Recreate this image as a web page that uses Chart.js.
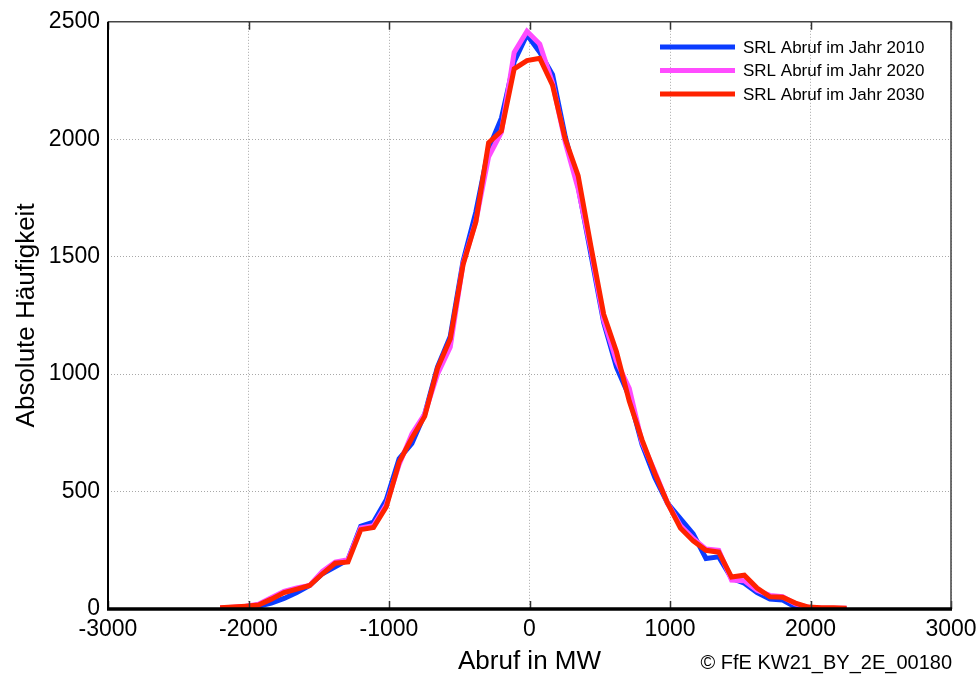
<!DOCTYPE html>
<html>
<head>
<meta charset="utf-8">
<script src="https://cdn.jsdelivr.net/npm/chart.js@4/dist/chart.umd.min.js"></script>
<style>
  html, body { margin: 0; padding: 0; background: #fff; }
  #wrap { width: 979px; height: 675px; }
</style>
</head>
<body>
<div id="wrap"><canvas id="chart" width="979" height="675"></canvas></div>
<script>
// --- DATA ---
const abrufMW = [-2202, -2111, -2020, -1929, -1838, -1747, -1656, -1565, -1474, -1383,
  -1292, -1201, -1110, -1019, -928, -837, -746, -655, -564, -473,
  -382, -291, -200, -109, -18, 73, 164, 255, 346, 437,
  528, 619, 710, 801, 892, 983, 1074, 1165, 1256, 1347,
  1438, 1529, 1620, 1711, 1802, 1893, 1984, 2075, 2166, 2257];

const jahr2010 = [2, 5, 8, 12, 25, 45, 70, 100, 150, 180,
  210, 352, 370, 465, 640, 705, 830, 1030, 1160, 1480,
  1690, 1960, 2090, 2330, 2445, 2370, 2275, 2010, 1800, 1510,
  1220, 1030, 905, 700, 560, 450, 385, 320, 215, 222,
  131, 110, 70, 42, 38, 8, 2, 0, 0, 0];

const jahr2020 = [4, 8, 12, 20, 48, 75, 90, 100, 160, 200,
  210, 345, 355, 445, 615, 745, 830, 1000, 1115, 1470,
  1650, 1925, 2030, 2370, 2460, 2405, 2240, 1985, 1790, 1530,
  1230, 1055, 940, 710, 585, 450, 355, 300, 255, 250,
  123, 120, 80, 58, 52, 22, 8, 4, 3, 3];

const jahr2030 = [5, 8, 12, 17, 42, 70, 85, 100, 150, 195,
  200, 338, 347, 435, 625, 728, 820, 1025, 1150, 1465,
  1648, 1985, 2035, 2300, 2335, 2345, 2230, 2000, 1845, 1545,
  1255, 1095, 885, 720, 578, 450, 345, 290, 250, 242,
  136, 144, 89, 52, 50, 25, 8, 5, 5, 3];

const seriesNames = ["SRL Abruf im Jahr 2010", "SRL Abruf im Jahr 2020", "SRL Abruf im Jahr 2030"];
const seriesColors = ["#0b3cff", "#ff4cff", "#ff2200"];
const xTicks = [-3000, -2000, -1000, 0, 1000, 2000, 3000];
const yTicks = [0, 500, 1000, 1500, 2000, 2500];

const FONT = "'Liberation Sans', Arial, sans-serif";

function toPoints(vals) {
  return vals.map((v, i) => ({ x: abrufMW[i], y: v }));
}

// frame, tick marks, legend and copyright note
const decorPlugin = {
  id: "decor",
  afterDraw(chart) {
    const ctx = chart.ctx;
    const a = chart.chartArea;
    const xs = chart.scales.x;
    ctx.save();

    // tick marks at top and bottom
    ctx.strokeStyle = "#333";
    ctx.lineWidth = 1.5;
    xTicks.forEach(t => {
      const px = Math.round(xs.getPixelForValue(t)) + 0.5;
      ctx.beginPath();
      ctx.moveTo(px, a.top); ctx.lineTo(px, a.top + 8);
      ctx.moveTo(px, a.bottom); ctx.lineTo(px, a.bottom - 8);
      ctx.stroke();
    });

    // top + right border
    ctx.strokeStyle = "#444";
    ctx.lineWidth = 1.5;
    ctx.beginPath();
    ctx.moveTo(a.left, a.top); ctx.lineTo(a.right, a.top); ctx.lineTo(a.right, a.bottom);
    ctx.stroke();

    // left axis
    ctx.strokeStyle = "#000";
    ctx.lineWidth = 2;
    ctx.beginPath();
    ctx.moveTo(a.left, a.top); ctx.lineTo(a.left, a.bottom);
    ctx.stroke();

    // bottom axis (thick)
    ctx.lineWidth = 3.5;
    ctx.beginPath();
    ctx.moveTo(a.left - 1, a.bottom); ctx.lineTo(a.right + 1, a.bottom);
    ctx.stroke();

    // legend
    ctx.font = "17px " + FONT;
    ctx.textBaseline = "middle";
    ctx.textAlign = "left";
    seriesNames.forEach((name, i) => {
      const y = 47 + i * 23.5;
      ctx.strokeStyle = seriesColors[i];
      ctx.lineWidth = 5;
      ctx.beginPath();
      ctx.moveTo(660, y); ctx.lineTo(735, y);
      ctx.stroke();
      ctx.fillStyle = "#000";
      ctx.fillText(name, 743, y + 1);
    });

    // copyright
    ctx.font = "20px " + FONT;
    ctx.textAlign = "right";
    ctx.fillText("\u00A9 FfE KW21_BY_2E_00180", 952, 663);
    ctx.restore();
  }
};

new Chart(document.getElementById("chart"), {
  type: "line",
  data: {
    datasets: [
      { label: seriesNames[0], data: toPoints(jahr2010), borderColor: seriesColors[0], order: 3 },
      { label: seriesNames[1], data: toPoints(jahr2020), borderColor: seriesColors[1], order: 2 },
      { label: seriesNames[2], data: toPoints(jahr2030), borderColor: seriesColors[2], order: 1 }
    ]
  },
  options: {
    responsive: false,
    animation: false,
    layout: { padding: { top: 19, right: 28, left: 0, bottom: 0 } },
    elements: {
      line: { borderWidth: 5, tension: 0, fill: false, borderJoinStyle: "miter" },
      point: { radius: 0, hoverRadius: 0 }
    },
    plugins: {
      legend: { display: false },
      tooltip: { enabled: false }
    },
    scales: {
      x: {
        type: "linear",
        min: -3000,
        max: 3000,
        afterFit: (s) => { s.height = 66; s.paddingLeft = 0; s.paddingRight = 0; },
        afterBuildTicks: (s) => { s.ticks = xTicks.map(v => ({ value: v })); },
        ticks: {
          color: "#000", font: { family: FONT, size: 23 }, padding: 7, maxRotation: 0,
          callback: (v) => String(v)
        },
        grid: { color: "#a8a8a8", lineWidth: 1, drawTicks: false },
        border: { display: false, dash: [1, 2] },
        title: {
          display: true,
          text: "Abruf in MW",
          color: "#000",
          font: { family: FONT, size: 26, lineHeight: 1 },
          padding: { top: 0, bottom: 0 }
        }
      },
      y: {
        min: 0,
        max: 2500,
        afterFit: (s) => { s.width = 108; },
        afterBuildTicks: (s) => { s.ticks = yTicks.map(v => ({ value: v })); },
        ticks: {
          color: "#000", font: { family: FONT, size: 23 }, padding: 8,
          callback: (v) => String(v)
        },
        grid: { color: "#a8a8a8", lineWidth: 1, drawTicks: false },
        border: { display: false, dash: [1, 2] },
        title: {
          display: true,
          text: "Absolute Häufigkeit",
          color: "#000",
          font: { family: FONT, size: 26, lineHeight: 1 },
          padding: { top: 14, bottom: 0 }
        }
      }
    }
  },
  plugins: [decorPlugin]
});
</script>
</body>
</html>
